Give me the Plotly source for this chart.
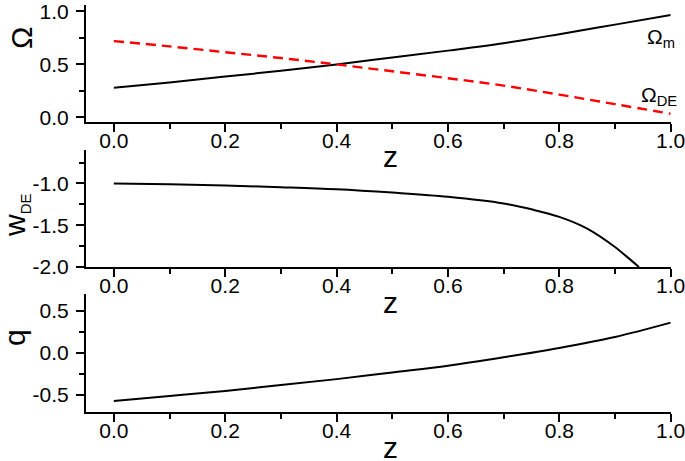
import plotly.graph_objects as go
from plotly.subplots import make_subplots

# Omega panel
Z_OMEGA = [0.0, 0.1, 0.2, 0.3, 0.4, 0.5, 0.6, 0.7, 0.8, 0.9, 1.0]
OMEGA_M = [0.28, 0.33, 0.385, 0.44, 0.50, 0.565, 0.63, 0.70, 0.785, 0.875, 0.965]
OMEGA_DE = [0.72, 0.67, 0.615, 0.56, 0.50, 0.435, 0.37, 0.30, 0.215, 0.125, 0.035]

# w_DE panel
Z_W = [0.0, 0.1, 0.2, 0.3, 0.4, 0.5, 0.6, 0.7, 0.75, 0.8, 0.85, 0.9, 0.92, 0.943]
W_DE = [-1.0, -1.01, -1.025, -1.045, -1.07, -1.11, -1.16, -1.24, -1.31, -1.40, -1.54, -1.76, -1.87, -2.0]

# q panel
Z_Q = [0.0, 0.1, 0.2, 0.3, 0.4, 0.5, 0.6, 0.7, 0.8, 0.9, 1.0]
Q = [-0.57, -0.51, -0.45, -0.38, -0.31, -0.23, -0.15, -0.05, 0.06, 0.19, 0.36]

# tick labels
X_TICKS = [0.0, 0.2, 0.4, 0.6, 0.8, 1.0]
Y_TICKS = [[0.0, 0.5, 1.0], [-2.0, -1.5, -1.0], [-0.5, 0.0, 0.5]]

FONT = 'Liberation Sans, Arial, sans-serif'
W, H = 685, 461

fig = make_subplots(rows=3, cols=1)

fig.add_trace(go.Scatter(x=Z_OMEGA, y=OMEGA_M, mode='lines', line_shape='spline',
                         line=dict(color='black', width=2)), row=1, col=1)
fig.add_trace(go.Scatter(x=Z_OMEGA, y=OMEGA_DE, mode='lines', line_shape='spline',
                         line=dict(color='#ff0000', width=2.4, dash='10px,6px')), row=1, col=1)
fig.add_trace(go.Scatter(x=Z_W, y=W_DE, mode='lines', line_shape='spline',
                         line=dict(color='black', width=2)), row=2, col=1)
fig.add_trace(go.Scatter(x=Z_Q, y=Q, mode='lines', line_shape='spline',
                         line=dict(color='black', width=2)), row=3, col=1)

# panel pixel boxes (top, bottom) and y ranges
panels = [
    (5, 121.7, [-0.04, 1.06]),
    (150, 267, [-2.0, -0.6]),
    (294, 412, [-0.7, 0.7]),
]
xdom = [86 / W, 670.7 / W]

axis_common = dict(
    showline=True, linecolor='black', linewidth=2, mirror=False,
    ticks='outside', ticklen=8, tickwidth=2, tickcolor='black',
    showgrid=False, zeroline=False, automargin=False,
    ticklabeloverflow='allow',
    tickfont=dict(family=FONT, size=21, color='black'),
)
minor = dict(ticks='outside', ticklen=5, tickwidth=2, tickcolor='black')

for i, (top, bot, yr) in enumerate(panels, start=1):
    fig.update_xaxes(
        domain=xdom, range=[-0.05, 1.0],
        tickvals=X_TICKS, ticktext=['%.1f' % v for v in X_TICKS],
        minor=dict(dtick=0.1, tick0=0, **minor), ticklabelstandoff=-9,
        row=i, col=1, **axis_common)
    yt = Y_TICKS[i - 1]
    fig.update_yaxes(
        domain=[1 - bot / H, 1 - top / H], range=yr,
        tickvals=yt, ticktext=['%.1f' % v for v in yt],
        minor=dict(dtick=0.25, tick0=0, **minor), ticklabelstandoff=3,
        row=i, col=1, **axis_common)

annotations = []
# z labels
for yz in [157, 302, 447]:
    annotations.append(dict(x=390 / W, y=1 - yz / H, xref='paper', yref='paper',
                            xanchor='center', yanchor='middle',
                            text='z', showarrow=False,
                            font=dict(family=FONT, size=30, color='black')))
# y titles
for txt, xc, yc in [('Ω', 22, 38),
                    ('w<sub><span style="font-size:15px">DE</span></sub>', 16, 215),
                    ('q', 14, 338)]:
    annotations.append(dict(x=xc / W, y=1 - yc / H, xref='paper', yref='paper',
                            xanchor='center', yanchor='middle',
                            text=txt, showarrow=False, textangle=-90,
                            font=dict(family=FONT, size=30, color='black')))
# curve labels
annotations.append(dict(x=645 / W, y=1 - 38 / H, xref='paper', yref='paper',
                        xanchor='left', yanchor='middle',
                        text='Ω<sub>m</sub>', showarrow=False,
                        font=dict(family=FONT, size=21, color='black')))
annotations.append(dict(x=639 / W, y=1 - 96 / H, xref='paper', yref='paper',
                        xanchor='left', yanchor='middle',
                        text='Ω<sub>DE</sub>', showarrow=False,
                        font=dict(family=FONT, size=21, color='black')))

fig.update_layout(
    width=W, height=H,
    margin=dict(l=0, r=0, t=0, b=0),
    paper_bgcolor='white', plot_bgcolor='white',
    showlegend=False,
    annotations=annotations,
    font=dict(family=FONT, color='black'),
)

fig.write_html("out.html", config={'displayModeBar': False},
               post_script="document.body.style.margin='0';")
